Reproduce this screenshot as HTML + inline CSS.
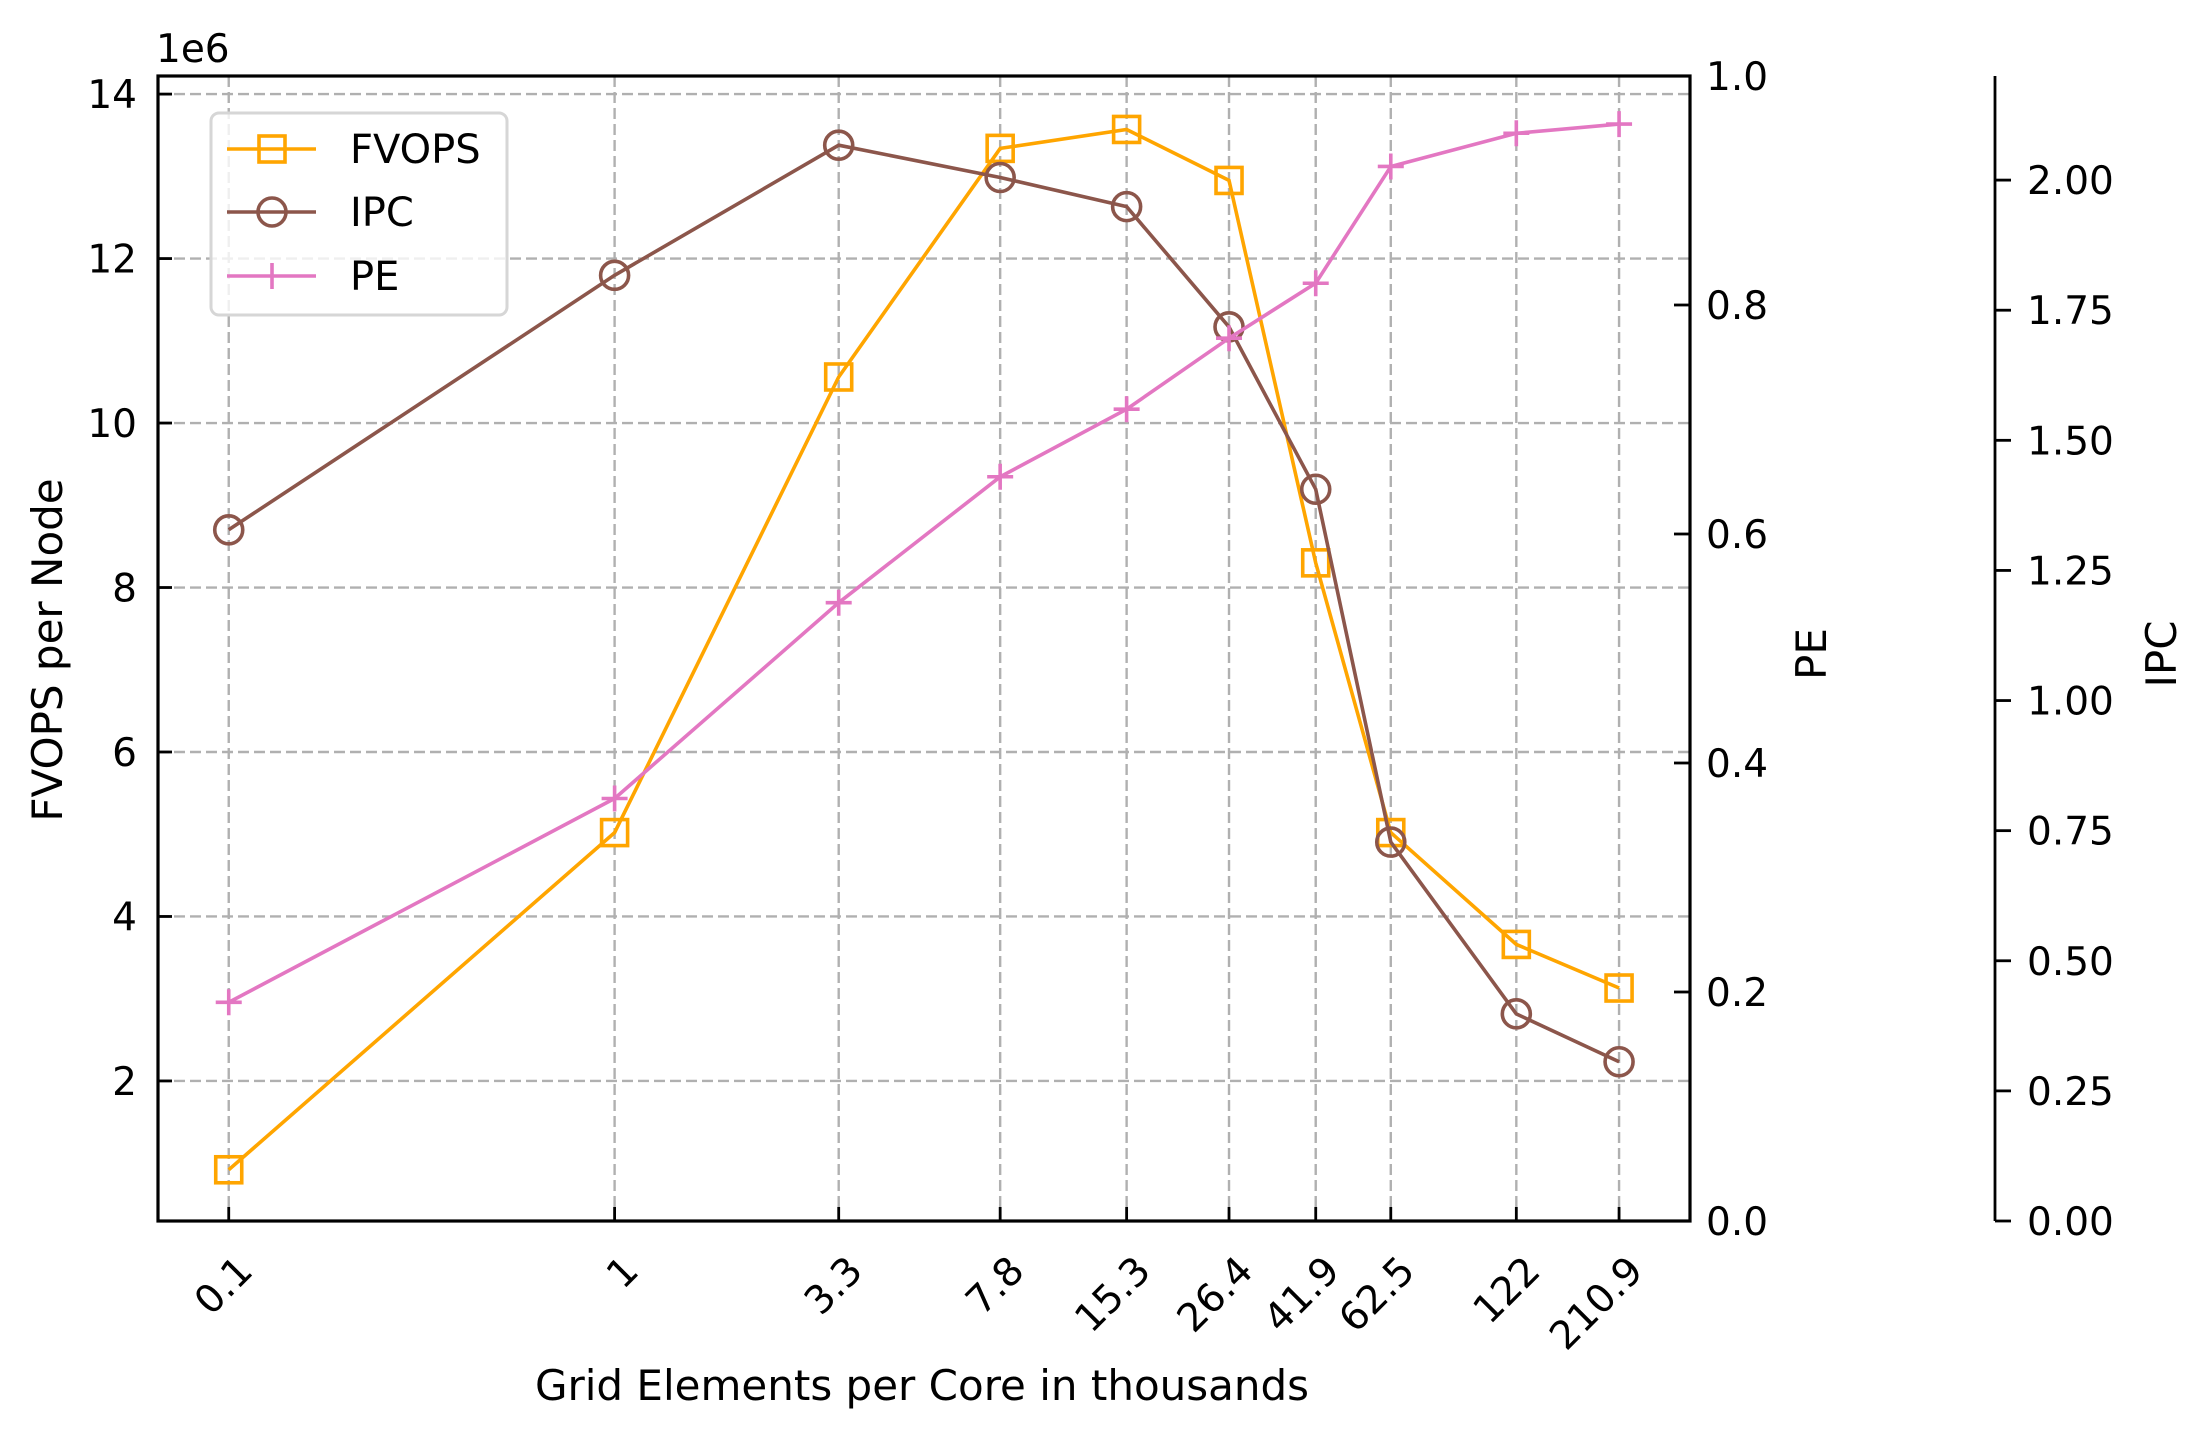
<!DOCTYPE html>
<html><head><meta charset="utf-8"><style>
html,body{margin:0;padding:0;background:#fff;}
svg{display:block;font-family:"DejaVu Sans","Liberation Sans",sans-serif;}
</style></head><body>
<svg id="chart" width="2196" height="1430" viewBox="0 0 2196 1430"></svg>
<script>
const xLabels = ["0.1","1","3.3","7.8","15.3","26.4","41.9","62.5","122","210.9"];
const xValues = [0.128,1,3.3,7.8,15.3,26.4,41.9,62.5,122,210.9];
const fvops = [0.92,5.02,10.56,13.34,13.57,12.95,8.30,5.02,3.66,3.13];
const ipc = [1.328,1.817,2.067,2.005,1.949,1.718,1.406,0.728,0.398,0.306];
const pe = [0.191,0.369,0.540,0.650,0.709,0.771,0.819,0.921,0.950,0.958];
const leftTicks = [2,4,6,8,10,12,14];
const peTicks = [0.0,0.2,0.4,0.6,0.8,1.0];
const ipcTicks = [0.00,0.25,0.50,0.75,1.00,1.25,1.50,1.75,2.00];

const NS="http://www.w3.org/2000/svg";
const svg=document.getElementById('chart');
const L=158,R=1690,T=76,B=1221,IPCX=1995;
const xScale=v=>614.6+432.2*Math.log10(v);
const yLeft=v=>B-(v-0.297)/(14.22-0.297)*(B-T);
const yPE=v=>B-v*(B-T);
const yIPC=v=>B-v/2.2*(B-T);
function mk(tag,attrs,parent){const e=document.createElementNS(NS,tag);for(const k in attrs)e.setAttribute(k,attrs[k]);(parent||svg).appendChild(e);return e;}
function txt(s,attrs,parent){const e=mk('text',attrs,parent);e.textContent=s;return e;}
const LW=3.6, FS=39;

const grid=mk('g',{});


leftTicks.forEach(v=>{const l=mk('line',{x1:L,x2:R,y1:yLeft(v),y2:yLeft(v),stroke:'#b0b0b0','stroke-width':2.4,'stroke-dasharray':'11,5'},grid);

});
xValues.forEach(v=>{const l=mk('line',{x1:xScale(v),x2:xScale(v),y1:T,y2:B,stroke:'#b0b0b0','stroke-width':2.4,'stroke-dasharray':'11,5'},grid);

});

function series(vals,sc,color,marker,name){
  const g=mk('g',{});
  
  
  const pts=vals.map((v,i)=>xScale(xValues[i]).toFixed(1)+','+sc(v).toFixed(1)).join(' ');
  const pl=mk('polyline',{points:pts,fill:'none',stroke:color,'stroke-width':LW},g);
  
  
  vals.forEach((v,i)=>{const x=xScale(xValues[i]),y=sc(v);let m;
    if(marker==='s')m=mk('rect',{x:x-13,y:y-13,width:26,height:26,fill:'none',stroke:color,'stroke-width':LW},g);
    else if(marker==='o')m=mk('circle',{cx:x,cy:y,r:14,fill:'none',stroke:color,'stroke-width':LW},g);
    else m=mk('path',{d:`M${x-13},${y}H${x+13}M${x},${y-13}V${y+13}`,stroke:color,'stroke-width':LW},g);
    
    });
}
series(fvops,yLeft,'#FFA500','s','fvops');
series(ipc,yIPC,'#8c564b','o','ipc');
series(pe,yPE,'#e377c2','+','pe');

const fr=mk('rect',{x:L,y:T,width:R-L,height:B-T,fill:'none',stroke:'#000','stroke-width':3.2});



leftTicks.forEach(v=>{const y=yLeft(v);mk('line',{x1:L,x2:L+14,y1:y,y2:y,stroke:'#000','stroke-width':2.8});
const t=txt(String(v),{x:137,y:y+14,'text-anchor':'end','font-size':FS});

});
const e6=txt('1e6',{x:156,y:62,'font-size':FS});


peTicks.forEach(v=>{const y=yPE(v);mk('line',{x1:R-16,x2:R,y1:y,y2:y,stroke:'#000','stroke-width':2.8});
const t=txt(v.toFixed(1),{x:1706,y:y+14,'font-size':FS});

});
const ax=mk('line',{x1:IPCX,x2:IPCX,y1:T,y2:B,stroke:'#000','stroke-width':2.8});


ipcTicks.forEach(v=>{const y=yIPC(v);mk('line',{x1:IPCX,x2:IPCX+16,y1:y,y2:y,stroke:'#000','stroke-width':2.8});
const t=txt(v.toFixed(2),{x:2027,y:y+14,'font-size':FS});

});
xValues.forEach((v,i)=>{const x=xScale(v);mk('line',{x1:x,x2:x,y1:B-14,y2:B,stroke:'#000','stroke-width':2.8});
const ax0=x+26, ay0=B+52;
const t=txt(xLabels[i],{x:ax0,y:ay0,'text-anchor':'end','font-size':FS,transform:`rotate(-45 ${ax0} ${ay0})`});

});

let t=txt('Grid Elements per Core in thousands',{x:922,y:1400,'text-anchor':'middle','font-size':42});


t=txt('FVOPS per Node',{x:0,y:0,'text-anchor':'middle','font-size':42,transform:'translate(62 650) rotate(-90)'});


t=txt('PE',{x:0,y:0,'text-anchor':'middle','font-size':42,transform:'translate(1826 654) rotate(-90)'});


t=txt('IPC',{x:0,y:0,'text-anchor':'middle','font-size':42,transform:'translate(2176 654) rotate(-90)'});



const lg=mk('g',{});


mk('rect',{x:211,y:113,width:296,height:202,rx:8,fill:'rgba(255,255,255,0.8)',stroke:'#d6d6d6','stroke-width':3},lg);
const legItems=[['FVOPS','#FFA500','s',149],['IPC','#8c564b','o',212],['PE','#e377c2','+',276]];
legItems.forEach(([n,c,m,y])=>{const g=mk('g',{},lg);


mk('line',{x1:227,x2:316,y1:y,y2:y,stroke:c,'stroke-width':LW},g);
const x=272;
if(m==='s')mk('rect',{x:x-13,y:y-13,width:26,height:26,fill:'none',stroke:c,'stroke-width':LW},g);
else if(m==='o')mk('circle',{cx:x,cy:y,r:14,fill:'none',stroke:c,'stroke-width':LW},g);
else mk('path',{d:`M${x},${y-13}V${y+13}`,stroke:c,'stroke-width':LW},g);
txt(n,{x:350,y:y+14,'font-size':40},g);});
</script>
</body></html>
